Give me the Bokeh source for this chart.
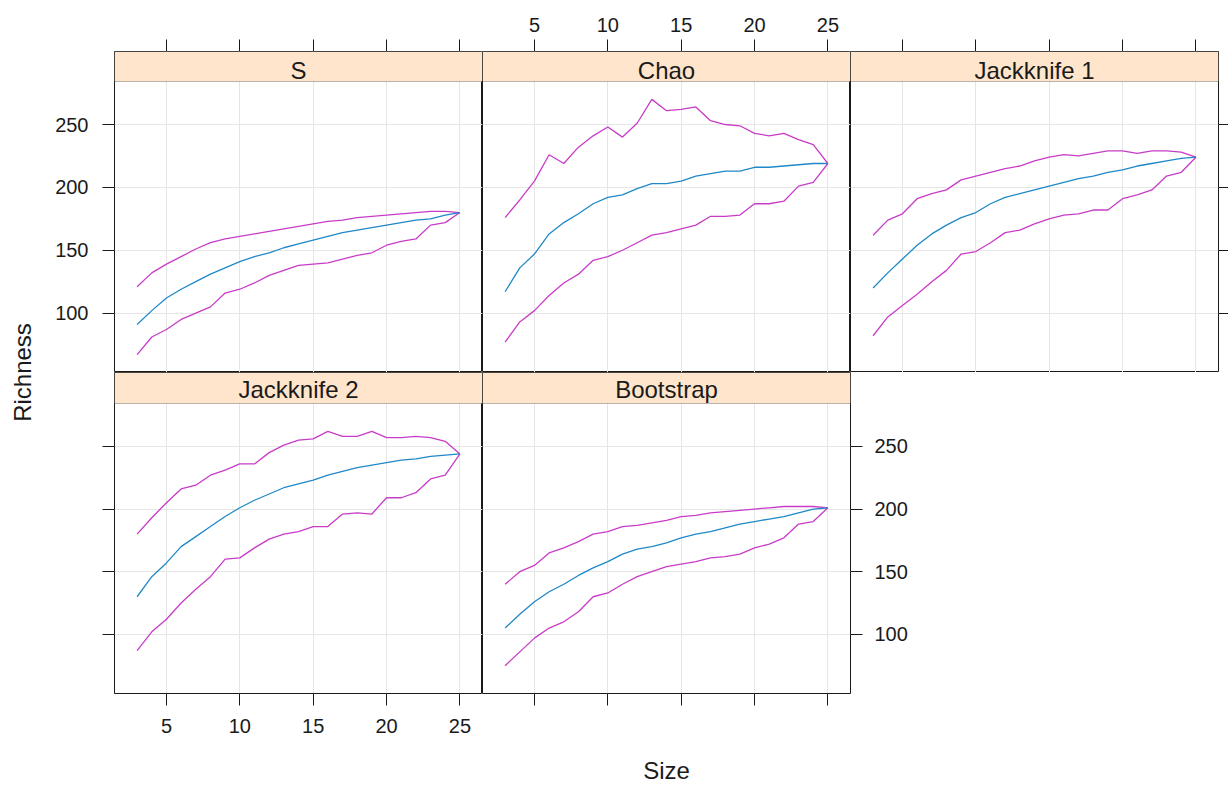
import numpy as np
from bokeh.plotting import figure
from bokeh.models import Range1d, FixedTicker, LinearAxis, BoxAnnotation, Label, Grid
from bokeh.layouts import row, column
from bokeh.embed import file_html
from bokeh.resources import INLINE

# ---------------- data ----------------
size = list(range(3, 26))
panel_names = ["S", "Chao", "Jackknife 1", "Jackknife 2", "Bootstrap"]

s_mean = [91, 102, 112, 119, 125, 131, 136, 141, 145, 148, 152, 155, 158, 161, 164, 166, 168, 170, 172, 174, 175, 178, 180]
s_upper = [121, 132, 139, 145, 151, 156, 159, 161, 163, 165, 167, 169, 171, 173, 174, 176, 177, 178, 179, 180, 181, 181, 180]
s_lower = [67, 81, 87, 95, 100, 105, 116, 119, 124, 130, 134, 138, 139, 140, 143, 146, 148, 154, 157, 159, 170, 172, 180]

chao_mean = [117, 136, 147, 163, 172, 179, 187, 192, 194, 199, 203, 203, 205, 209, 211, 213, 213, 216, 216, 217, 218, 219, 219]
chao_upper = [176, 190, 205, 226, 219, 232, 241, 248, 240, 251, 270, 261, 262, 264, 253, 250, 249, 243, 241, 243, 238, 234, 219]
chao_lower = [77, 93, 102, 114, 124, 131, 142, 145, 150, 156, 162, 164, 167, 170, 177, 177, 178, 187, 187, 189, 201, 204, 219]

jack1_mean = [120, 132, 143, 154, 163, 170, 176, 180, 187, 192, 195, 198, 201, 204, 207, 209, 212, 214, 217, 219, 221, 223, 224]
jack1_upper = [162, 174, 179, 191, 195, 198, 206, 209, 212, 215, 217, 221, 224, 226, 225, 227, 229, 229, 227, 229, 229, 228, 224]
jack1_lower = [82, 97, 106, 115, 125, 134, 147, 149, 156, 164, 166, 171, 175, 178, 179, 182, 182, 191, 194, 198, 209, 212, 224]

jack2_mean = [130, 146, 157, 170, 178, 186, 194, 201, 207, 212, 217, 220, 223, 227, 230, 233, 235, 237, 239, 240, 242, 243, 244]
jack2_upper = [180, 193, 205, 216, 219, 227, 231, 236, 236, 245, 251, 255, 256, 262, 258, 258, 262, 257, 257, 258, 257, 254, 244]
jack2_lower = [87, 102, 112, 125, 136, 146, 160, 161, 169, 176, 180, 182, 186, 186, 196, 197, 196, 209, 209, 213, 224, 227, 244]

boot_mean = [105, 116, 126, 134, 140, 147, 153, 158, 164, 168, 170, 173, 177, 180, 182, 185, 188, 190, 192, 194, 197, 200, 201]
boot_upper = [140, 150, 155, 165, 169, 174, 180, 182, 186, 187, 189, 191, 194, 195, 197, 198, 199, 200, 201, 202, 202, 202, 201]
boot_lower = [75, 86, 97, 105, 110, 118, 130, 133, 140, 146, 150, 154, 156, 158, 161, 162, 164, 169, 172, 177, 188, 190, 201]

x_ticks = [5, 10, 15, 20, 25]
y_ticks = [100, 150, 200, 250]
x_label = "Size"
y_label = "Richness"

series = {
    "S": (s_mean, s_lower, s_upper),
    "Chao": (chao_mean, chao_lower, chao_upper),
    "Jackknife 1": (jack1_mean, jack1_lower, jack1_upper),
    "Jackknife 2": (jack2_mean, jack2_lower, jack2_upper),
    "Bootstrap": (boot_mean, boot_lower, boot_upper),
}

# ---------------- styling ----------------
FONT = "Liberation Sans"
TICK_FS = "20px"
STRIP_FS = "24px"
LAB_FS = "24px"
MEAN_COL = "#1f88c8"
BOUND_COL = "#c83cc8"
STRIP_COL = "#ffe5cc"
BOX_COL = "#1a1a1a"
GRID_COL = "#e6e6e6"
FRAME_W = 368
LINE_W = 1.3

# lattice-style 7% padding of the data limits
all_y = [v for trio in series.values() for arr in trio for v in arr]
ypad = 0.07 * (max(all_y) - min(all_y))
Y_LO, Y_HI = min(all_y) - ypad, max(all_y) + ypad
xpad = 0.07 * (max(size) - min(size))
X_LO, X_HI = min(size) - xpad, max(size) + xpad


def add_axis(p, loc, ticks, labels=True, tick_out=12, standoff=10, label="", label_standoff=0):
    ax = LinearAxis(ticker=FixedTicker(ticks=ticks))
    ax.axis_line_color = None
    ax.major_tick_out = tick_out
    ax.major_tick_in = 0
    ax.minor_tick_out = 0
    ax.minor_tick_in = 0
    ax.major_tick_line_color = BOX_COL
    ax.major_tick_line_width = 1
    ax.major_label_text_font = FONT
    ax.major_label_text_color = "#1a1a1a"
    if labels:
        ax.major_label_text_font_size = TICK_FS
        ax.major_label_standoff = standoff
    else:
        ax.major_label_text_font_size = "0px"
        ax.major_label_text_color = None
        ax.major_label_standoff = 0
    if label:
        ax.axis_label = label
        ax.axis_label_text_font = FONT
        ax.axis_label_text_font_size = LAB_FS
        ax.axis_label_text_font_style = "normal"
        ax.axis_label_text_color = "#1a1a1a"
        ax.axis_label_standoff = label_standoff
    p.add_layout(ax, loc)
    return ax


def make_panel(name, strip_px, panel_px, text_px, borders):
    mean, lower, upper = series[name]
    ppu = panel_px / (Y_HI - Y_LO)
    y_top = Y_HI + strip_px / ppu
    left, right, top, bottom = borders
    p = figure(frame_width=FRAME_W, frame_height=strip_px + panel_px,
               x_range=Range1d(X_LO, X_HI), y_range=Range1d(Y_LO, y_top),
               x_axis_location=None, y_axis_location=None,
               min_border_left=left, min_border_right=right,
               min_border_top=top, min_border_bottom=bottom,
               output_backend="svg", toolbar_location=None,
               background_fill_color="white", border_fill_color="white",
               outline_line_color=BOX_COL, outline_line_width=1)
    p.center = []
    p.add_layout(Grid(dimension=0, ticker=FixedTicker(ticks=x_ticks),
                      grid_line_color=GRID_COL, grid_line_width=1))
    p.add_layout(Grid(dimension=1, ticker=FixedTicker(ticks=y_ticks),
                      grid_line_color=GRID_COL, grid_line_width=1))
    p.line(size, upper, line_color=BOUND_COL, line_width=LINE_W)
    p.line(size, lower, line_color=BOUND_COL, line_width=LINE_W)
    p.line(size, mean, line_color=MEAN_COL, line_width=LINE_W)
    p.add_layout(BoxAnnotation(left=X_LO, right=X_HI, bottom=Y_HI, top=y_top,
                               fill_color=STRIP_COL, fill_alpha=1.0,
                               line_color=BOX_COL, line_width=1, level="annotation"))
    p.add_layout(Label(x=(X_LO + X_HI) / 2, y=Y_HI + text_px / ppu, text=name,
                       text_align="center", text_baseline="middle",
                       text_font=FONT, text_font_size=STRIP_FS, text_color="#1a1a1a"))
    return p


# row 1: strip 30px + panel 291px ; row 2: strip 31px + panel 290px
p_s = make_panel("S", 30, 291, 11.5, (74, 0, 51, 0))
p_c = make_panel("Chao", 30, 291, 11.5, (0, 0, 51, 0))
p_j1 = make_panel("Jackknife 1", 30, 291, 11.5, (0, 10, 51, 0))
p_j2 = make_panel("Jackknife 2", 31, 290, 14, (74, 0, 0, 93))
p_b = make_panel("Bootstrap", 31, 290, 14, (0, 60, 0, 93))

add_axis(p_s, "left", y_ticks, labels=True, standoff=14)
add_axis(p_s, "above", x_ticks, labels=False)
add_axis(p_c, "above", x_ticks, labels=True, standoff=8)
add_axis(p_j1, "above", x_ticks, labels=False)
add_axis(p_j1, "right", y_ticks, labels=False, tick_out=10)
add_axis(p_j2, "left", y_ticks, labels=False)
add_axis(p_j2, "below", x_ticks, labels=True, standoff=13)
add_axis(p_b, "right", y_ticks, labels=True, standoff=12)
add_axis(p_b, "below", x_ticks, labels=False, label=x_label, label_standoff=51)

# left strip carrying the y label
LAB_W, TOTAL_H = 40, 786
p_lab = figure(width=LAB_W, height=TOTAL_H, x_range=Range1d(0, LAB_W), y_range=Range1d(0, TOTAL_H),
               x_axis_location=None, y_axis_location=None, min_border=0,
               output_backend="svg", toolbar_location=None, outline_line_color=None)
p_lab.grid.visible = False
p_lab.add_layout(Label(x=22, y=TOTAL_H - 372, text=y_label, angle=np.pi / 2,
                       text_align="center", text_baseline="middle",
                       text_font=FONT, text_font_size=LAB_FS, text_color="#1a1a1a"))

layout = row(p_lab, column(row(p_s, p_c, p_j1), row(p_j2, p_b)))

open("out.html", "w").write(file_html(layout, INLINE))
